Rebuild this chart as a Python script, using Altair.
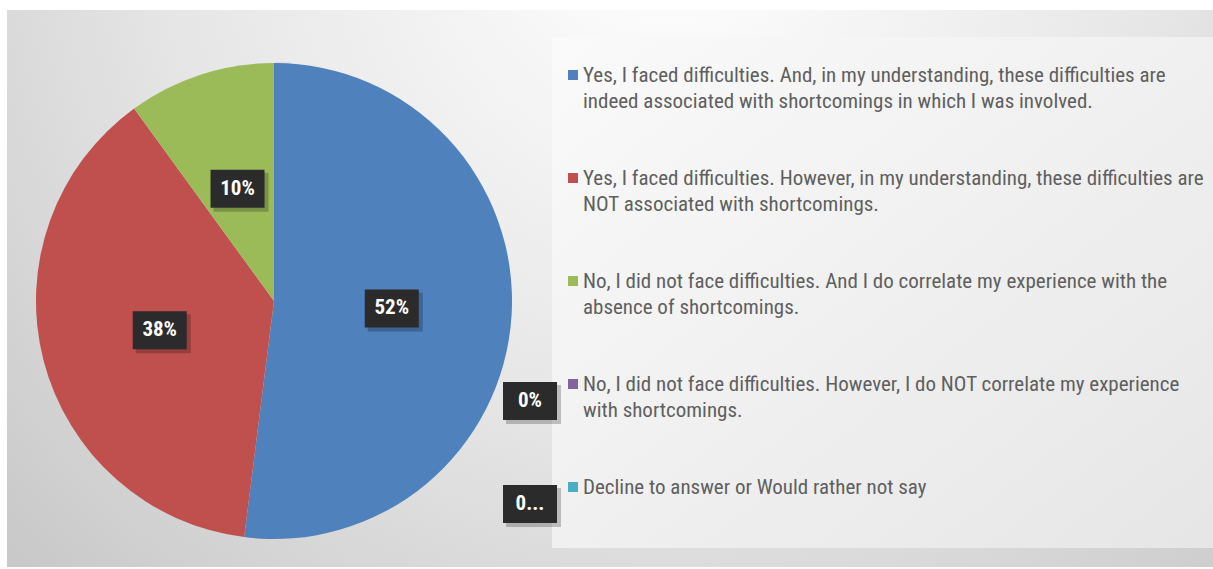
import altair as alt
import pandas as pd

# ---- data ----
categories = [
    "Yes, I faced difficulties. And, in my understanding, these difficulties are\nindeed associated with shortcomings in which I was involved.",
    "Yes, I faced difficulties. However, in my understanding, these difficulties are\nNOT associated with shortcomings.",
    "No, I did not face difficulties. And I do correlate my experience with the\nabsence of shortcomings.",
    "No, I did not face difficulties. However, I do NOT correlate my experience\nwith shortcomings.",
    "Decline to answer or Would rather not say",
]
values = [52, 38, 10, 0, 0]
labels = ["52%", "38%", "10%", "0%", "0..."]
colors = ["#4f81bd", "#c0504d", "#9bbb59", "#8064a2", "#4bacc6"]

df = pd.DataFrame({
    "idx": list(range(len(categories))),
    "category": categories,
    "value": values,
    "label": labels,
})

# layout constants
CX, CY, R = 274, 301, 238
LAB_R = 118
ROW0, ROWSTEP = 75, 103
FONT = "Liberation Sans Narrow, Arial Narrow, Roboto Condensed, DejaVu Sans Condensed, sans-serif"

base = alt.Chart(df)

frame = alt.Chart(pd.DataFrame({"a": [0]})).mark_rect(
    color=alt.RadialGradient(
        gradient="radial", x1=0.55, y1=0.2, r1=0.0, x2=0.55, y2=0.2, r2=0.75,
        stops=[alt.GradientStop(offset=0, color="#ffffff"),
               alt.GradientStop(offset=0.55, color="#e6e6e6"),
               alt.GradientStop(offset=1, color="#c9c9c9")]
    )
).encode(x=alt.value(7), x2=alt.value(1213), y=alt.value(10), y2=alt.value(567))

legend_box = alt.Chart(pd.DataFrame({"a": [0]})).mark_rect(
    color=alt.LinearGradient(
        gradient="linear", x1=0, y1=0, x2=1, y2=1,
        stops=[alt.GradientStop(offset=0, color="#fafafa"),
               alt.GradientStop(offset=1, color="#e6e6e6")]
    )
).encode(x=alt.value(552), x2=alt.value(1213), y=alt.value(37), y2=alt.value(548))

pie_shadow = alt.Chart(pd.DataFrame({"v": [1]})).mark_arc(
    outerRadius=R + 4, color="#000000", opacity=0.07
).encode(theta=alt.Theta("v:Q"), x=alt.value(CX + 2), y=alt.value(CY + 3))

color_scale = alt.Scale(domain=categories, range=colors)

pie = base.mark_arc(outerRadius=R).encode(
    theta=alt.Theta("value:Q", stack=True),
    color=alt.Color("category:N", scale=color_scale, legend=None),
    order=alt.Order("idx:Q"),
    x=alt.value(CX), y=alt.value(CY),
)

pos = base.transform_window(
    cum="sum(value)", sort=[alt.SortField("idx")], frame=[None, 0]
).transform_joinaggregate(
    total="sum(value)"
).transform_calculate(
    mid="(datum.cum - datum.value/2) / datum.total * 2 * PI",
    rowy=f"{ROW0} + datum.idx * {ROWSTEP}",
).transform_calculate(
    px=f"datum.value > 0 ? {CX} + {LAB_R} * sin(datum.mid) : 530",
    py=f"datum.value > 0 ? {CY} - {LAB_R} * cos(datum.mid) : datum.rowy + 17",
).transform_calculate(
    bx1="datum.px - 27", bx2="datum.px + 27",
    by1="datum.py - 19", by2="datum.py + 19",
    sx1="datum.px - 24", sx2="datum.px + 31",
    sy1="datum.py - 16", sy2="datum.py + 23",
)

box_shadow = pos.mark_rect(color="#000000", opacity=0.22).encode(
    x=alt.X("sx1:Q", scale=None), x2="sx2:Q",
    y=alt.Y("sy1:Q", scale=None), y2="sy2:Q",
)
box = pos.mark_rect(color="#2b2b2b").encode(
    x=alt.X("bx1:Q", scale=None), x2="bx2:Q",
    y=alt.Y("by1:Q", scale=None), y2="by2:Q",
)
box_text = pos.mark_text(
    color="#ffffff", font=FONT, fontSize=21, fontWeight="bold",
    align="center", baseline="middle"
).encode(
    x=alt.X("px:Q", scale=None), y=alt.Y("py:Q", scale=None), text="label:N"
)

leg = base.transform_calculate(
    rowy=f"{ROW0} + datum.idx * {ROWSTEP}",
    ty="datum.rowy + 7",
    sq1="datum.rowy - 5", sq2="datum.rowy + 5",
)
leg_sq = leg.mark_rect().encode(
    x=alt.value(568), x2=alt.value(578),
    y=alt.Y("sq1:Q", scale=None), y2="sq2:Q",
    color=alt.Color("category:N", scale=color_scale, legend=None),
)
leg_text = leg.mark_text(
    align="left", baseline="alphabetic", font=FONT, fontSize=21,
    color="#5f5f5f", lineBreak="\n", lineHeight=26
).encode(
    x=alt.value(583), y=alt.Y("ty:Q", scale=None), text="category:N"
)

chart = alt.layer(
    frame, legend_box, pie_shadow, pie, box_shadow, box, box_text, leg_sq, leg_text
).properties(
    width=1213, height=569, autosize=alt.AutoSizeParams(type="none"),
    padding=0, background="#ffffff"
).configure_view(stroke=None)

chart.save("out.html", embed_options={"renderer": "svg", "actions": False})
